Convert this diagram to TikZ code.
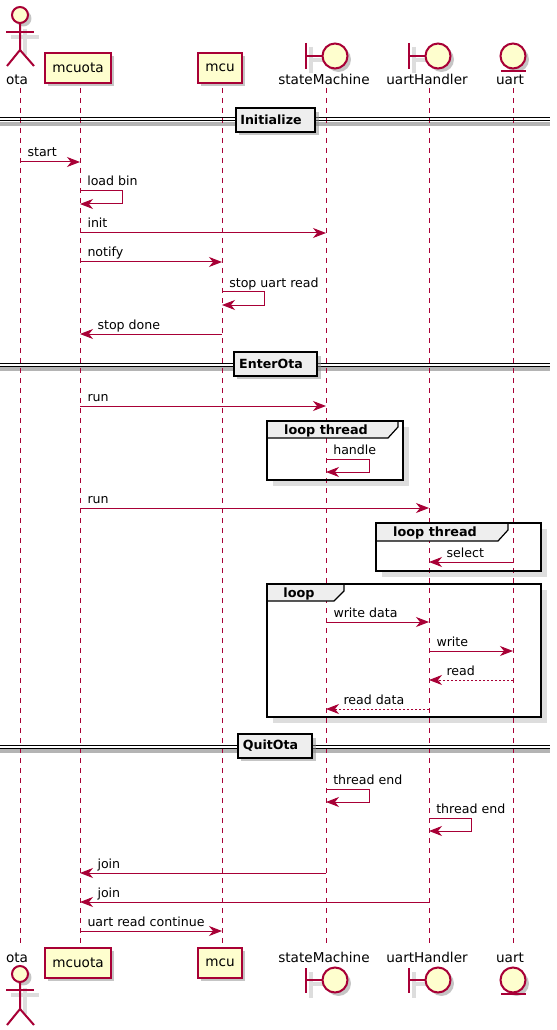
\documentclass[tikz,border=0pt]{standalone}
\usepackage{fontspec}
\setmainfont{DejaVu Sans}
\usetikzlibrary{positioning,arrows.meta,shadows}
\definecolor{umlline}{HTML}{A80036}
\definecolor{umlfill}{HTML}{FEFECE}
\definecolor{umltab}{HTML}{EEEEEE}
\definecolor{umlshadow}{HTML}{DDDDDD}
\definecolor{umlband}{HTML}{B4B4B4}

\begin{document}
\begin{tikzpicture}[
  x=0.75pt, y=-0.75pt,
  shadowed/.style={drop shadow={shadow xshift=2.6pt, shadow yshift=-2.6pt, fill=black!45}},
  partbox/.style={rectangle, draw=umlline, fill=umlfill, line width=1.1pt, minimum height=22.5pt, inner sep=0pt, font=\fontsize{10.2}{12}\selectfont, shadowed},
  partname/.style={anchor=base, inner sep=0pt, font=\fontsize{10.2}{12}\selectfont},
  head/.style={circle, draw=umlline, fill=umlfill, line width=1.5pt, inner sep=0pt, minimum size=12pt, shadowed},
  bighead/.style={head, minimum size=18.75pt},
  limb/.style={draw=umlline, line width=1.5pt},
  limbshadow/.style={draw=umlshadow, line width=3pt},
  life/.style={draw=umlline, line width=0.75pt, dash pattern=on 3.75pt off 3.75pt},
  msg/.style={-{Stealth[length=9.75pt, width=7.5pt, inset=3pt]}, draw=umlline, fill=none, line width=0.75pt},
  reply/.style={msg, dash pattern=on 1.5pt off 1.5pt},
  msglabel/.style={anchor=base west, inner sep=0pt, xshift=5.25pt, yshift=3.75pt, font=\fontsize{9.45}{12}\selectfont},
  backlabel/.style={msglabel, xshift=7.5pt},
  dividerbox/.style={rectangle, draw=black, fill=umltab, line width=1.5pt, minimum height=17.5pt, inner sep=0pt, font=\fontsize{9.45}{12}\selectfont\bfseries, execute at end node=\hspace{6.75pt}, shadowed},
  framebox/.style={draw=black, line width=1.7pt},
  frameback/.style={fill=white},
  frameshadow/.style={fill=umlshadow},
  tabline/.style={draw=black, fill=umltab, line width=0.9pt},
  framelabel/.style={inner sep=0pt, font=\fontsize{9.6}{12}\selectfont\bfseries}
  ]
  \useasboundingbox (0,0) rectangle (556,1030);
  \fill[white] (0,0) rectangle (556,1030);

  % Lifeline ends
  \coordinate (ota1) at (20,88);          \coordinate (ota2) at (20,948);
  \coordinate (mcuota1) at (80,88);       \coordinate (mcuota2) at (80,948);
  \coordinate (mcu1) at (222,88);         \coordinate (mcu2) at (222,948);
  \coordinate (stateMachine1) at (326,88); \coordinate (stateMachine2) at (326,948);
  \coordinate (uartHandler1) at (429,88); \coordinate (uartHandler2) at (429,948);
  \coordinate (uart1) at (513,88);        \coordinate (uart2) at (513,948);

  % Frames: back
  \fill[frameshadow] (273,427) rectangle (409,486);
  \fill[frameback] (267,421) rectangle (403,480);
  \fill[frameshadow] (382,529) rectangle (547,577);
  \fill[frameback] (376,523) rectangle (541,571);
  \fill[frameshadow] (273,590) rectangle (547,723);
  \fill[frameback] (267,584) rectangle (541,717);

  % Dividers: band under the lines
  \fill[umlband] (0,122) rectangle (550,126);
  \fill[umlband] (0,367) rectangle (550,371);
  \fill[umlband] (0,749) rectangle (550,753);

  % Lifelines
  \draw[life] (ota1) -- (ota2);
  \draw[life] (mcuota1) -- (mcuota2);
  \draw[life] (mcu1) -- (mcu2);
  \draw[life] (stateMachine1) -- (stateMachine2);
  \draw[life] (uartHandler1) -- (uartHandler2);
  \draw[life] (uart1) -- (uart2);

  % Top row: participants
  \draw[limbshadow] (25,29) -- (25,55) (11,37) -- (39,37);
  \node[head] (otaHead) at (20,15) {};
  \draw[limb] (otaHead.south) -- ++(0,26) coordinate (otaHip) -- ++(-13,16);
  \draw[limb] (otaHip) -- ++(14,16);
  \draw[limb] (6,32) -- (34,32);
  \node[partname] (otaName) at (17,85) {ota};
  \node[partbox, minimum width=49.5pt] (mcuotaBox) at (78,68) {mcuota};
  \node[partbox, minimum width=33pt] (mcuBox) at (220,68) {mcu};
  \draw[limbshadow] (311,47) -- (311,73) (311,60) -- (330,60);
  \node[bighead] (stateMachineHead) at (335,56) {};
  \draw[limb] (306,43) -- (306,69);
  \draw[limb] (306,56) -- (stateMachineHead.west);
  \node[partname] (stateMachineName) at (324,85) {stateMachine};
  \draw[limbshadow] (414,47) -- (414,73) (414,60) -- (433,60);
  \node[bighead] (uartHandlerHead) at (438,56) {};
  \draw[limb] (409,43) -- (409,69);
  \draw[limb] (409,56) -- (uartHandlerHead.west);
  \node[partname] (uartHandlerName) at (427,85) {uartHandler};
  \node[bighead] (uartHead) at (513,56) {};
  \draw[limb] (501,71) -- (526,71);
  \node[partname] (uartName) at (510,85) {uart};

  % Initialize
  \draw[black, line width=0.75pt] (0,118) -- (550,118) (0,121) -- (550,121);
  \node[dividerbox, minimum width=59.6pt] (initDivider) at (275.5,120) {Initialize};

  \coordinate (rowStart) at (0,162);
  \coordinate (rowLoad) at (0,191);
  \coordinate (rowLoadEnd) at (0,204);
  \coordinate (rowInit) at (0,233);
  \coordinate (rowNotify) at (0,262);
  \coordinate (rowStop) at (0,292);
  \coordinate (rowStopEnd) at (0,305);
  \coordinate (rowDone) at (0,334);
  \draw[msg] (ota1 |- rowStart) -- (mcuota1 |- rowStart) node[pos=0, msglabel] {start};
  \draw[msg] (mcuota1 |- rowLoad) -- ++(42,0) |- (mcuota1 |- rowLoadEnd);
  \node[msglabel] (loadLabel) at (mcuota1 |- rowLoad) {load bin};
  \draw[msg] (mcuota1 |- rowInit) -- (stateMachine1 |- rowInit) node[pos=0, msglabel] {init};
  \draw[msg] (mcuota1 |- rowNotify) -- (mcu1 |- rowNotify) node[pos=0, msglabel] {notify};
  \draw[msg] (mcu1 |- rowStop) -- ++(42,0) |- (mcu1 |- rowStopEnd);
  \node[msglabel] (stopLabel) at (mcu1 |- rowStop) {stop uart read};
  \draw[msg] (mcu1 |- rowDone) -- (mcuota1 |- rowDone) node[pos=1, backlabel] {stop done};

  % EnterOta
  \draw[black, line width=0.75pt] (0,363) -- (550,363) (0,366) -- (550,366);
  \node[dividerbox, minimum width=62.6pt] (enterDivider) at (275.5,364) {EnterOta};

  \coordinate (rowRun) at (0,406);
  \coordinate (rowHandle) at (0,459);
  \coordinate (rowHandleEnd) at (0,472);
  \coordinate (rowRunTwo) at (0,508);
  \coordinate (rowSelect) at (0,562);
  \coordinate (rowWriteData) at (0,622);
  \coordinate (rowWrite) at (0,651);
  \coordinate (rowRead) at (0,680);
  \coordinate (rowReadData) at (0,709);
  \draw[msg] (mcuota1 |- rowRun) -- (stateMachine1 |- rowRun) node[pos=0, msglabel] {run};
  \draw[msg] (stateMachine1 |- rowHandle) -- ++(43,0) |- (stateMachine1 |- rowHandleEnd);
  \node[msglabel] (handleLabel) at (stateMachine1 |- rowHandle) {handle};
  \draw[msg] (mcuota1 |- rowRunTwo) -- (uartHandler1 |- rowRunTwo) node[pos=0, msglabel] {run};
  \draw[msg] (uart1 |- rowSelect) -- (uartHandler1 |- rowSelect) node[pos=1, backlabel] {select};
  \draw[msg] (stateMachine1 |- rowWriteData) -- (uartHandler1 |- rowWriteData) node[pos=0, msglabel] {write data};
  \draw[msg] (uartHandler1 |- rowWrite) -- (uart1 |- rowWrite) node[pos=0, msglabel] {write};
  \draw[reply] (uart1 |- rowRead) -- (uartHandler1 |- rowRead) node[pos=1, backlabel] {read};
  \draw[reply] (uartHandler1 |- rowReadData) -- (stateMachine1 |- rowReadData) node[pos=1, backlabel] {read data};

  % Frames: tabs and borders
  \draw[tabline] (267,421) -- (398,421) -- (398,427) -- (388,438) -- (267,438) -- cycle;
  \draw[framebox] (267,421) rectangle (403,480);
  \node[framelabel] (threadLoopOne) at (326,431) {loop thread};
  \draw[tabline] (376,523) -- (508,523) -- (508,530) -- (498,541) -- (376,541) -- cycle;
  \draw[framebox] (376,523) rectangle (541,571);
  \node[framelabel] (threadLoopTwo) at (435,533) {loop thread};
  \draw[tabline] (267,584) -- (344,584) -- (344,591) -- (334,601) -- (267,601) -- cycle;
  \draw[framebox] (267,584) rectangle (541,717);
  \node[framelabel] (plainLoop) at (299,594) {loop};

  % QuitOta
  \draw[black, line width=0.75pt] (0,745) -- (550,745) (0,748) -- (550,748);
  \node[dividerbox, minimum width=56pt] (quitDivider) at (275,746) {QuitOta};

  \coordinate (rowEnd) at (0,789);
  \coordinate (rowEndStop) at (0,802);
  \coordinate (rowEndTwo) at (0,818);
  \coordinate (rowEndTwoStop) at (0,831);
  \coordinate (rowJoin) at (0,873);
  \coordinate (rowJoinTwo) at (0,902);
  \coordinate (rowContinue) at (0,931);
  \draw[msg] (stateMachine1 |- rowEnd) -- ++(43,0) |- (stateMachine1 |- rowEndStop);
  \node[msglabel] (endLabel) at (stateMachine1 |- rowEnd) {thread end};
  \draw[msg] (uartHandler1 |- rowEndTwo) -- ++(42,0) |- (uartHandler1 |- rowEndTwoStop);
  \node[msglabel] (endTwoLabel) at (uartHandler1 |- rowEndTwo) {thread end};
  \draw[msg] (stateMachine1 |- rowJoin) -- (mcuota1 |- rowJoin) node[pos=1, backlabel] {join};
  \draw[msg] (uartHandler1 |- rowJoinTwo) -- (mcuota1 |- rowJoinTwo) node[pos=1, backlabel] {join};
  \draw[msg] (mcuota1 |- rowContinue) -- (mcu1 |- rowContinue) node[pos=0, msglabel] {uart read continue};

  % Bottom row: participants
  \draw[limbshadow] (25,988) -- (25,1014) (11,995) -- (39,995);
  \node[partname] (otaNameEnd) at (17,962) {ota};
  \node[head] (otaHeadEnd) at (20,974) {};
  \draw[limb] (otaHeadEnd.south) -- ++(0,26) coordinate (otaHipEnd) -- ++(-13,16);
  \draw[limb] (otaHipEnd) -- ++(14,16);
  \draw[limb] (6,990) -- (34,990);
  \node[partbox, minimum width=49.5pt] (mcuotaBoxEnd) at (78,963) {mcuota};
  \node[partbox, minimum width=33pt] (mcuBoxEnd) at (220,963) {mcu};
  \node[partname] (stateMachineNameEnd) at (324,962) {stateMachine};
  \draw[limbshadow] (311,972) -- (311,998) (311,984) -- (330,984);
  \node[bighead] (stateMachineHeadEnd) at (335,980) {};
  \draw[limb] (306,968) -- (306,993);
  \draw[limb] (306,980) -- (stateMachineHeadEnd.west);
  \node[partname] (uartHandlerNameEnd) at (427,962) {uartHandler};
  \draw[limbshadow] (414,972) -- (414,998) (414,984) -- (433,984);
  \node[bighead] (uartHandlerHeadEnd) at (438,980) {};
  \draw[limb] (409,968) -- (409,993);
  \draw[limb] (409,980) -- (uartHandlerHeadEnd.west);
  \node[partname] (uartNameEnd) at (510,962) {uart};
  \node[bighead] (uartHeadEnd) at (513,980) {};
  \draw[limb] (501,994) -- (526,994);
\end{tikzpicture}
\end{document}
